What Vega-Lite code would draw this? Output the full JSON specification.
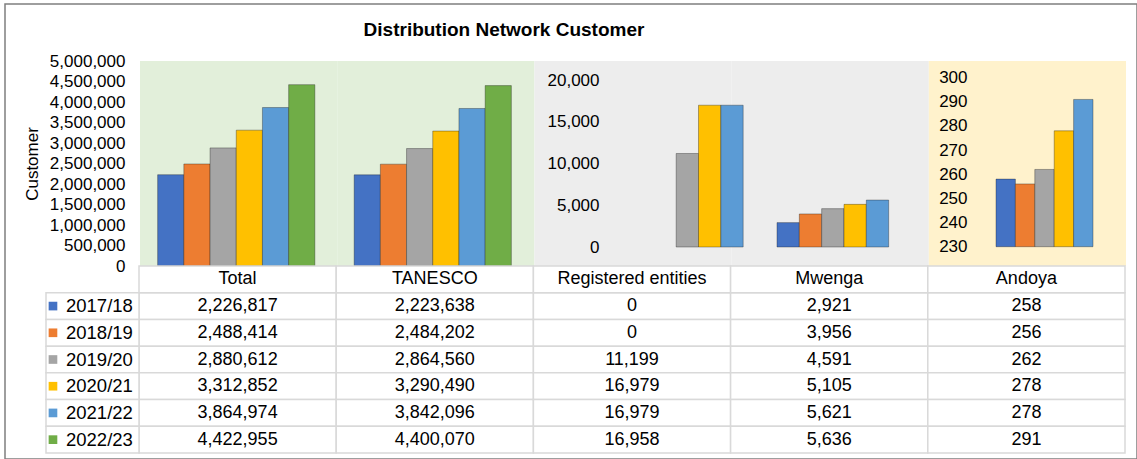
{
  "$schema": "https://vega.github.io/schema/vega-lite/v6.json",
  "width": 1132,
  "height": 455,
  "autosize": {"type": "none"},
  "padding": {"left": 5, "top": 4, "right": 0, "bottom": 0},
  "title": {"text": "Distribution Network Customer", "fontSize": 19, "fontWeight": "bold", "color": "#000000", "anchor": "middle", "dx": -67, "dy": 40},
  "datasets": {
    "cells": [
      {"cat": "Total", "year": "2017/18", "value": 2226817, "bar": 2226817},
      {"cat": "Total", "year": "2018/19", "value": 2488414, "bar": 2488414},
      {"cat": "Total", "year": "2019/20", "value": 2880612, "bar": 2880612},
      {"cat": "Total", "year": "2020/21", "value": 3312852, "bar": 3312852},
      {"cat": "Total", "year": "2021/22", "value": 3864974, "bar": 3864974},
      {"cat": "Total", "year": "2022/23", "value": 4422955, "bar": 4422955},
      {"cat": "TANESCO", "year": "2017/18", "value": 2223638, "bar": 2223638},
      {"cat": "TANESCO", "year": "2018/19", "value": 2484202, "bar": 2484202},
      {"cat": "TANESCO", "year": "2019/20", "value": 2864560, "bar": 2864560},
      {"cat": "TANESCO", "year": "2020/21", "value": 3290490, "bar": 3290490},
      {"cat": "TANESCO", "year": "2021/22", "value": 3842096, "bar": 3842096},
      {"cat": "TANESCO", "year": "2022/23", "value": 4400070, "bar": 4400070},
      {"cat": "Registered entities", "year": "2017/18", "value": 0, "bar": null},
      {"cat": "Registered entities", "year": "2018/19", "value": 0, "bar": null},
      {"cat": "Registered entities", "year": "2019/20", "value": 11199, "bar": 11199},
      {"cat": "Registered entities", "year": "2020/21", "value": 16979, "bar": 16979},
      {"cat": "Registered entities", "year": "2021/22", "value": 16979, "bar": 16979},
      {"cat": "Registered entities", "year": "2022/23", "value": 16958, "bar": null},
      {"cat": "Mwenga", "year": "2017/18", "value": 2921, "bar": 2921},
      {"cat": "Mwenga", "year": "2018/19", "value": 3956, "bar": 3956},
      {"cat": "Mwenga", "year": "2019/20", "value": 4591, "bar": 4591},
      {"cat": "Mwenga", "year": "2020/21", "value": 5105, "bar": 5105},
      {"cat": "Mwenga", "year": "2021/22", "value": 5621, "bar": 5621},
      {"cat": "Mwenga", "year": "2022/23", "value": 5636, "bar": null},
      {"cat": "Andoya", "year": "2017/18", "value": 258, "bar": 258},
      {"cat": "Andoya", "year": "2018/19", "value": 256, "bar": 256},
      {"cat": "Andoya", "year": "2019/20", "value": 262, "bar": 262},
      {"cat": "Andoya", "year": "2020/21", "value": 278, "bar": 278},
      {"cat": "Andoya", "year": "2021/22", "value": 278, "bar": 291},
      {"cat": "Andoya", "year": "2022/23", "value": 291, "bar": null}
    ]
  },
  "data": {"name": "cells"},
  "resolve": {
    "scale": {"x": "independent", "y": "independent", "color": "independent", "xOffset": "independent"},
    "axis": {"x": "independent", "y": "independent"}
  },
  "layer": [
    {
      "transform": [{"aggregate": [{"op": "count", "as": "n"}], "groupby": ["cat"]}],
      "mark": {"type": "rect"},
      "encoding": {
        "x": {"field": "cat", "type": "nominal", "scale": {"domain": ["Total", "TANESCO", "Registered entities", "Mwenga", "Andoya"], "range": [135, 1121], "paddingInner": 0, "paddingOuter": 0}, "axis": null},
        "y": {"datum": 5000000, "type": "quantitative", "scale": {"domain": [0, 5000000], "range": [262, 57], "nice": false}, "axis": null},
        "y2": {"datum": 0},
        "color": {"field": "cat", "type": "nominal", "scale": {"domain": ["Total", "TANESCO", "Registered entities", "Mwenga", "Andoya"], "range": ["#E2EFDA", "#E2EFDA", "#EDEDED", "#EDEDED", "#FFF2CC"]}, "legend": null}
      }
    },
    {
      "transform": [{"filter": {"field": "cat", "oneOf": ["Total", "TANESCO"]}}],
      "mark": {"type": "bar", "stroke": "#1a1a1a", "strokeOpacity": 0.35, "strokeWidth": 1},
      "encoding": {
        "x": {"field": "cat", "type": "nominal", "scale": {"domain": ["Total", "TANESCO"], "range": [133, 526], "paddingInner": 0.2, "paddingOuter": 0.1}, "axis": null},
        "xOffset": {"field": "year", "type": "nominal", "scale": {"domain": ["2017/18", "2018/19", "2019/20", "2020/21", "2021/22", "2022/23"], "paddingInner": 0, "paddingOuter": 0}},
        "y": {"field": "bar", "type": "quantitative", "scale": {"domain": [0, 5000000], "range": [262, 57], "nice": false},
          "axis": {"orient": "left", "offset": -122, "zindex": 2, "values": [0, 500000, 1000000, 1500000, 2000000, 2500000, 3000000, 3500000, 4000000, 4500000, 5000000], "format": ",d", "title": "Customer", "titlePadding": 8}},
        "color": {"field": "year", "type": "nominal", "scale": {"domain": ["2017/18", "2018/19", "2019/20", "2020/21", "2021/22", "2022/23"], "range": ["#4472C4", "#ED7D31", "#A5A5A5", "#FFC000", "#5B9BD5", "#70AD47"]}, "legend": null}
      }
    },
    {
      "transform": [{"filter": {"field": "cat", "oneOf": ["Registered entities", "Mwenga"]}}],
      "mark": {"type": "bar", "stroke": "#1a1a1a", "strokeOpacity": 0.35, "strokeWidth": 1},
      "encoding": {
        "x": {"field": "cat", "type": "nominal", "scale": {"domain": ["Registered entities", "Mwenga"], "range": [626.5, 906], "paddingInner": 0.079, "paddingOuter": 0}, "axis": null},
        "xOffset": {"field": "year", "type": "nominal", "scale": {"domain": ["2017/18", "2018/19", "2019/20", "2020/21", "2021/22", "2022/23"], "paddingInner": 0, "paddingOuter": 0}},
        "y": {"field": "bar", "type": "quantitative", "scale": {"domain": [0, 20000], "range": [243, 76], "nice": false},
          "axis": {"orient": "left", "offset": -596, "zindex": 2, "values": [0, 5000, 10000, 15000, 20000], "format": ",d", "title": null}},
        "color": {"field": "year", "type": "nominal", "scale": {"domain": ["2017/18", "2018/19", "2019/20", "2020/21", "2021/22", "2022/23"], "range": ["#4472C4", "#ED7D31", "#A5A5A5", "#FFC000", "#5B9BD5", "#70AD47"]}, "legend": null}
      }
    },
    {
      "transform": [{"filter": {"field": "cat", "oneOf": ["Andoya"]}}],
      "mark": {"type": "bar", "stroke": "#1a1a1a", "strokeOpacity": 0.35, "strokeWidth": 1},
      "encoding": {
        "x": {"field": "cat", "type": "nominal", "scale": {"domain": ["Andoya"], "range": [991, 1107.4], "paddingInner": 0, "paddingOuter": 0}, "axis": null},
        "xOffset": {"field": "year", "type": "nominal", "scale": {"domain": ["2017/18", "2018/19", "2019/20", "2020/21", "2021/22", "2022/23"], "paddingInner": 0, "paddingOuter": 0}},
        "y": {"field": "bar", "type": "quantitative", "scale": {"domain": [230, 300], "range": [242.7, 73.7], "nice": false, "zero": false},
          "axis": {"orient": "left", "offset": -964, "zindex": 2, "values": [230, 240, 250, 260, 270, 280, 290, 300], "format": "d", "title": null}},
        "y2": {"datum": 230},
        "color": {"field": "year", "type": "nominal", "scale": {"domain": ["2017/18", "2018/19", "2019/20", "2020/21", "2021/22", "2022/23"], "range": ["#4472C4", "#ED7D31", "#A5A5A5", "#FFC000", "#5B9BD5", "#70AD47"]}, "legend": null}
      }
    },
    {
      "layer": [
        {
          "mark": {"type": "rect", "fill": "#FFFFFF", "stroke": "#D9D9D9", "strokeWidth": 1.5},
          "encoding": {
            "x": {"field": "cat", "type": "nominal", "scale": {"domain": ["Total", "TANESCO", "Registered entities", "Mwenga", "Andoya"], "range": [134, 1120], "paddingInner": 0, "paddingOuter": 0}, "axis": null},
            "y": {"field": "year", "type": "nominal", "scale": {"domain": ["hdr", "2017/18", "2018/19", "2019/20", "2020/21", "2021/22", "2022/23"], "range": [262, 449], "paddingInner": 0, "paddingOuter": 0}, "axis": null}
          }
        },
        {
          "mark": {"type": "text", "fontSize": 18, "color": "#000000", "baseline": "middle"},
          "encoding": {
            "x": {"field": "cat", "type": "nominal"},
            "y": {"field": "year", "type": "nominal"},
            "text": {"field": "value", "type": "quantitative", "format": ",d"}
          }
        },
        {
          "transform": [{"aggregate": [{"op": "count", "as": "n"}], "groupby": ["cat"]}],
          "mark": {"type": "rect", "fill": "#FFFFFF", "stroke": "#D9D9D9", "strokeWidth": 1.5},
          "encoding": {
            "x": {"field": "cat", "type": "nominal"},
            "y": {"datum": "hdr", "type": "nominal"}
          }
        },
        {
          "transform": [{"aggregate": [{"op": "count", "as": "n"}], "groupby": ["cat"]}],
          "mark": {"type": "text", "fontSize": 18, "color": "#000000", "baseline": "middle"},
          "encoding": {
            "x": {"field": "cat", "type": "nominal"},
            "y": {"datum": "hdr", "type": "nominal"},
            "text": {"field": "cat", "type": "nominal"}
          }
        }
      ]
    },
    {
      "transform": [{"aggregate": [{"op": "count", "as": "n"}], "groupby": ["year"]}],
      "layer": [
        {
          "mark": {"type": "rect", "fill": "#FFFFFF", "stroke": "#D9D9D9", "strokeWidth": 1.5},
          "encoding": {
            "x": {"datum": "yr", "type": "nominal", "scale": {"domain": ["yr"], "range": [41, 134], "paddingInner": 0, "paddingOuter": 0}, "axis": null},
            "y": {"field": "year", "type": "nominal", "scale": {"domain": ["hdr", "2017/18", "2018/19", "2019/20", "2020/21", "2021/22", "2022/23"], "range": [262, 449], "paddingInner": 0, "paddingOuter": 0}, "axis": null}
          }
        },
        {
          "mark": {"type": "point", "shape": "square", "filled": true, "size": 75, "opacity": 1},
          "encoding": {
            "x": {"datum": "yr", "type": "nominal", "bandPosition": 0.075},
            "y": {"field": "year", "type": "nominal"},
            "color": {"field": "year", "type": "nominal", "scale": {"domain": ["2017/18", "2018/19", "2019/20", "2020/21", "2021/22", "2022/23"], "range": ["#4472C4", "#ED7D31", "#A5A5A5", "#FFC000", "#5B9BD5", "#70AD47"]}, "legend": null}
          }
        },
        {
          "mark": {"type": "text", "fontSize": 18.5, "color": "#000000", "align": "left", "baseline": "middle"},
          "encoding": {
            "x": {"datum": "yr", "type": "nominal", "bandPosition": 0.215},
            "y": {"field": "year", "type": "nominal"},
            "text": {"field": "year", "type": "nominal"}
          }
        }
      ]
    }
  ],
  "config": {
    "font": "Liberation Sans",
    "background": "#FFFFFF",
    "view": {"stroke": "#7F7F7F", "strokeWidth": 1.5},
    "axis": {"labelFont": "Liberation Sans", "labelFontSize": 17, "labelColor": "#000000", "domain": false, "ticks": false, "grid": false, "labelPadding": 2, "titleFont": "Liberation Sans", "titleFontWeight": "normal", "titleFontSize": 17, "titleColor": "#000000", "zindex": 2},
    "title": {"font": "Liberation Sans"}
  }
}
